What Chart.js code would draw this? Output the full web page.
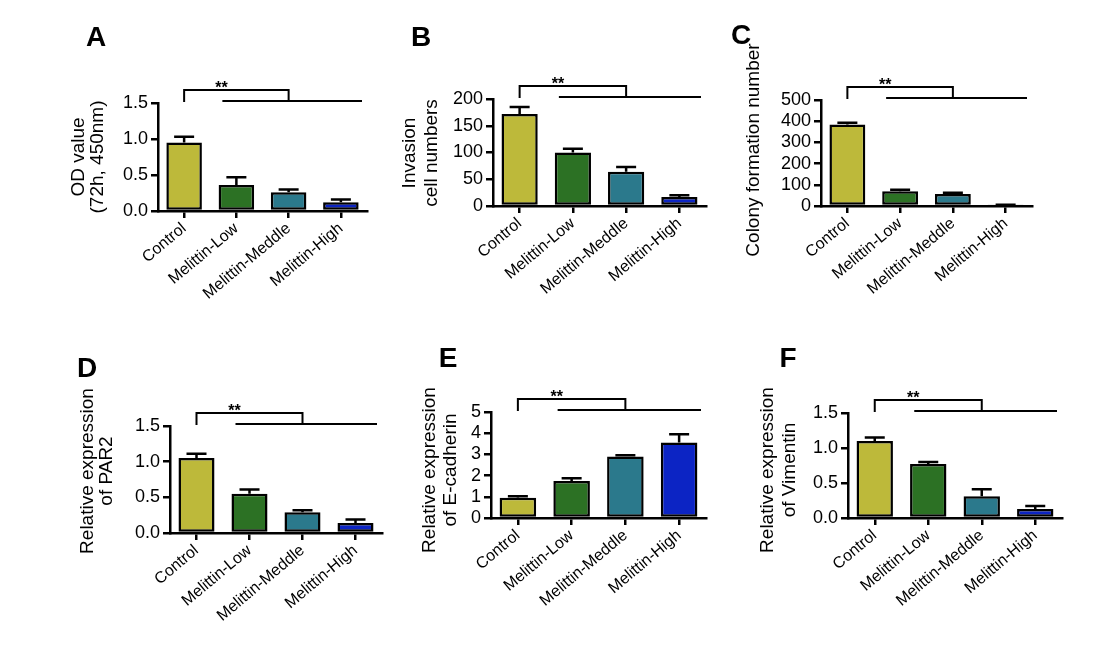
<!DOCTYPE html>
<html><head><meta charset="utf-8">
<script src="https://cdn.jsdelivr.net/npm/chart.js@4.4.1/dist/chart.umd.min.js"></script>
<style>
html,body{margin:0;padding:0;background:#fff;}
body{width:1108px;height:646px;overflow:hidden;position:relative;font-family:"Liberation Sans",Arial,sans-serif;}
canvas{position:absolute;}
.letter{position:absolute;font-weight:bold;font-size:28px;line-height:28px;color:#000;transform:translate(-50%,-50%);}
</style></head><body>
<script>
// ---- data ----
const categories = ['Control', 'Melittin-Low', 'Melittin-Meddle', 'Melittin-High'];
const barColors = ['#BDB93A', '#2C7124', '#2B798C', '#0C24C4'];

const odValues = [0.95, 0.36, 0.26, 0.12];
const odErrors = [0.08, 0.11, 0.04, 0.04];
const invasionValues = [172, 100, 64, 17];
const invasionErrors = [13, 7, 9, 3];
const colonyValues = [385, 70, 57, 4];
const colonyErrors = [8, 7, 5, 2];
const par2Values = [1.05, 0.55, 0.29, 0.14];
const par2Errors = [0.06, 0.06, 0.03, 0.05];
const ecadValues = [0.96, 1.75, 2.90, 3.56];
const ecadErrors = [0.07, 0.12, 0.06, 0.39];
const vimValues = [1.10, 0.77, 0.31, 0.13];
const vimErrors = [0.05, 0.03, 0.10, 0.04];

const panelLetters = ['A', 'B', 'C', 'D', 'E', 'F'];
const yTitles = [
  ['OD value', '(72h, 450nm)'],
  ['Invasion', 'cell numbers'],
  ['Colony formation number'],
  ['Relative expression', 'of PAR2'],
  ['Relative expression', 'of E-cadherin'],
  ['Relative expression', 'of Vimentin']
];
const yMax = [1.5, 200, 500, 1.5, 5, 1.5];
const yStep = [0.5, 50, 100, 0.5, 1, 0.5];
const yDecimals = [1, 0, 0, 1, 0, 1];
const significance = '**';

// ---- layout (page px) ----
const panels = [
  {values: odValues, errors: odErrors, box: [158, 103, 367, 211], titleX: [79, 98], titleY: 157, titleSize: 19, letter: [96, 37]},
  {values: invasionValues, errors: invasionErrors, box: [493, 99, 706, 206], titleX: [410, 432], titleY: 153, titleSize: 19, letter: [421, 37]},
  {values: colonyValues, errors: colonyErrors, box: [821, 100, 1032, 206], titleX: [754], titleY: 150, titleSize: 19, letter: [741, 35]},
  {values: par2Values, errors: par2Errors, box: [170, 426, 382, 533], titleX: [88, 107], titleY: 471, titleSize: 19, letter: [87, 368]},
  {values: ecadValues, errors: ecadErrors, box: [491, 412, 706, 518], titleX: [430, 451], titleY: 470, titleSize: 19, letter: [448, 358]},
  {values: vimValues, errors: vimErrors, box: [848, 413, 1062, 518], titleX: [768, 790], titleY: 470, titleSize: 19, letter: [788, 358]}
];

const PADL = 110, PADT = 90, PADR = 20, XH = 130;
const FONT = '"Liberation Sans", Arial, sans-serif';

const extras = {
  id: 'extras',
  afterDatasetsDraw(chart, args, opts) {
    const p = opts.panel, idx = opts.idx;
    const ctx = chart.ctx, ca = chart.chartArea;
    const xs = chart.scales.x, ys = chart.scales.y;
    ctx.save();
    ctx.strokeStyle = '#000';
    ctx.lineWidth = 2.5;
    // error bars (upper only)
    const meta = chart.getDatasetMeta(0);
    meta.data.forEach((bar, i) => {
      const v = p.values[i], e = p.errors[i];
      const yTop = ys.getPixelForValue(v + e);
      const yBar = ys.getPixelForValue(v);
      ctx.beginPath();
      ctx.moveTo(bar.x, yBar);
      ctx.lineTo(bar.x, yTop);
      ctx.moveTo(bar.x - 10, yTop);
      ctx.lineTo(bar.x + 10, yTop);
      ctx.stroke();
    });
    // significance bracket
    const t = ca.top;
    ctx.lineWidth = 2;
    ctx.beginPath();
    ctx.moveTo(xs.getPixelForValue(0), t - 1);
    ctx.lineTo(xs.getPixelForValue(0), t - 13);
    ctx.lineTo(xs.getPixelForValue(2), t - 13);
    ctx.lineTo(xs.getPixelForValue(2), t - 2);
    ctx.moveTo(xs.getPixelForValue(1) - 14, t - 2);
    ctx.lineTo(ca.right - 5, t - 2);
    ctx.stroke();
    ctx.fillStyle = '#000';
    ctx.font = 'bold 16px ' + FONT;
    ctx.textAlign = 'center';
    ctx.textBaseline = 'alphabetic';
    ctx.fillText(significance, xs.getPixelForValue(1) - 15, t - 10);
    // y titles
    const lines = yTitles[idx];
    const cLeft = p.box[0] - PADL;
    const cTop = p.box[1] - PADT;
    ctx.font = p.titleSize + 'px ' + FONT;
    ctx.textBaseline = 'middle';
    lines.forEach((ln, k) => {
      ctx.save();
      ctx.translate(p.titleX[k] - cLeft, p.titleY - cTop);
      ctx.rotate(-Math.PI / 2);
      ctx.fillText(ln, 0, 0);
      ctx.restore();
    });
    ctx.restore();
  }
};

panels.forEach((p, idx) => {
  const [l, t, r, b] = p.box;
  const cv = document.createElement('canvas');
  const w = r - l + PADL + PADR, h = b - t + PADT + XH;
  cv.width = w; cv.height = h;
  cv.style.left = (l - PADL) + 'px';
  cv.style.top = (t - PADT) + 'px';
  cv.style.width = w + 'px'; cv.style.height = h + 'px';
  document.body.appendChild(cv);

  const lt = document.createElement('div');
  lt.className = 'letter';
  lt.textContent = panelLetters[idx];
  lt.style.left = p.letter[0] + 'px';
  lt.style.top = p.letter[1] + 'px';
  document.body.appendChild(lt);

  new Chart(cv, {
    type: 'bar',
    data: {
      labels: categories,
      datasets: [{
        data: p.values,
        backgroundColor: barColors,
        borderColor: '#000',
        borderWidth: 2.5,
        borderSkipped: false,
        barPercentage: 0.68,
        categoryPercentage: 1.0
      }]
    },
    options: {
      responsive: false,
      animation: false,
      devicePixelRatio: 1,
      layout: {padding: {top: PADT, right: PADR, left: 0, bottom: 0}},
      plugins: {legend: {display: false}, tooltip: {enabled: false}, extras: {panel: p, idx: idx}},
      scales: {
        x: {
          grid: {display: true, drawOnChartArea: false, drawTicks: true, tickLength: 7, offset: false, color: '#000', lineWidth: 2.5},
          border: {display: true, color: '#000', width: 2.5},
          ticks: {color: '#000', font: {size: 16, family: FONT}, maxRotation: 40, minRotation: 40, padding: 1, autoSkip: false},
          afterFit(s) { s.height = XH; s.paddingLeft = 0; s.paddingRight = 0; }
        },
        y: {
          min: 0, max: yMax[idx],
          ticks: {stepSize: yStep[idx], autoSkip: false, callback: v => Number(v).toFixed(yDecimals[idx]), color: '#000', font: {size: 18, family: FONT}, padding: 3},
          grid: {display: true, drawOnChartArea: false, drawTicks: true, tickLength: 7, color: '#000', lineWidth: 2.5},
          border: {display: true, color: '#000', width: 2.5},
          afterFit(s) { s.width = PADL; s.paddingTop = 0; s.paddingBottom = 0; }
        }
      }
    },
    plugins: [extras]
  });
});
</script>
</body></html>
